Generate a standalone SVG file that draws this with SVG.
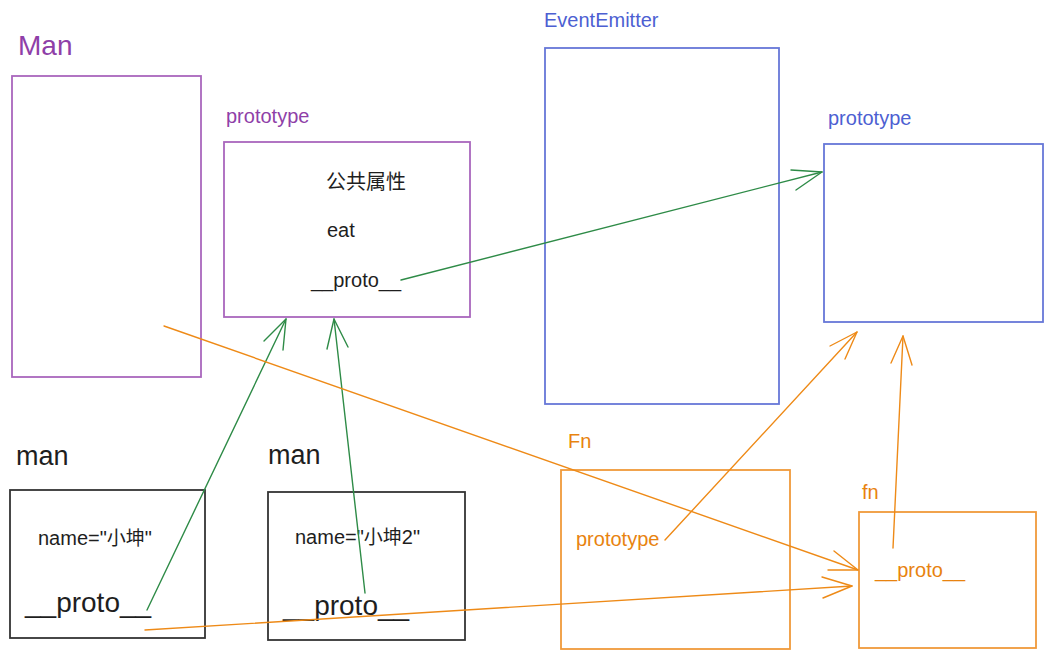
<svg xmlns="http://www.w3.org/2000/svg" width="1053" height="659" viewBox="0 0 1053 659">
<style>
text{font-family:"Liberation Sans",Arial,"Noto Sans CJK SC",sans-serif;font-size:20px}
.box{fill:none;stroke-width:1.8}
.pb{stroke:#a966bd}
.bb{stroke:#6677d8}
.ob{stroke:#f09a3a}
.kb{stroke:#333}
.pt{fill:#8f3fa8}
.bt{fill:#4d5fd2}
.ot{fill:#e8830f}
.kt{fill:#1e1e1e}
.big{font-size:27px}
.huge{font-size:28px}
.cjk{font-family:"Noto Sans CJK SC",sans-serif;font-size:19px}
.g{stroke:#2e8b47;fill:none;stroke-width:1.4;stroke-linecap:round;stroke-linejoin:round}
.o{stroke:#ee8a17;fill:none;stroke-width:1.4;stroke-linecap:round;stroke-linejoin:round}
</style>
<rect width="1053" height="659" fill="#fff"/>
<g id="Man">
<text x="18" y="55" class="pt huge">Man</text>
<rect x="12" y="76" width="189" height="301" class="box pb"/>
</g>
<g id="ManPrototype">
<text x="226" y="123" class="pt">prototype</text>
<rect x="224" y="142" width="246" height="175" class="box pb"/>
<text x="326" y="189" class="kt">公共属性</text>
<text x="327" y="237" class="kt">eat</text>
<text x="311" y="287" class="kt">__proto__</text>
</g>
<g id="EventEmitter">
<text x="544" y="27" class="bt">EventEmitter</text>
<rect x="545" y="48" width="234" height="356" class="box bb"/>
</g>
<g id="EventEmitterPrototype">
<text x="828" y="125" class="bt">prototype</text>
<rect x="824" y="144" width="219" height="178" class="box bb"/>
</g>
<g id="man1">
<text x="16" y="465" class="kt big">man</text>
<rect x="10" y="490" width="195" height="148" class="box kb"/>
<text x="38" y="545" class="kt">name="<tspan class="cjk">小坤</tspan>"</text>
<text x="25" y="612" class="kt huge">__proto__</text>
</g>
<g id="man2">
<text x="268" y="464" class="kt big">man</text>
<rect x="268" y="492" width="197" height="148" class="box kb"/>
<text x="295" y="544" class="kt">name="<tspan class="cjk">小坤</tspan>2"</text>
<text x="283" y="615" class="kt huge">__proto__</text>
</g>
<g id="Fn">
<text x="568" y="448" class="ot">Fn</text>
<rect x="561" y="470" width="229" height="179" class="box ob"/>
<text x="576" y="546" class="ot">prototype</text>
</g>
<g id="fn">
<text x="862" y="499" class="ot">fn</text>
<rect x="859" y="512" width="177" height="136" class="box ob"/>
<text x="875" y="577" class="ot">__proto__</text>
</g>
<g id="connectors">
<line x1="147" y1="610" x2="286" y2="319" class="g"/>
<polyline points="264,341 286,319 283,350" class="g"/>
<line x1="365" y1="593" x2="334" y2="319" class="g"/>
<polyline points="327,349 334,319 348,347" class="g"/>
<line x1="401" y1="280" x2="822" y2="172" class="g"/>
<polyline points="791,170 822,172 796,190" class="g"/>
<line x1="164" y1="326" x2="858" y2="570" class="o"/>
<polyline points="834,551 858,570 828,570" class="o"/>
<line x1="145" y1="630" x2="852" y2="586" class="o"/>
<polyline points="822,577 852,586 823,598" class="o"/>
<line x1="665" y1="540" x2="857" y2="332" class="o"/>
<polyline points="830,346 857,332 845,359" class="o"/>
<line x1="893" y1="548" x2="903" y2="336" class="o"/>
<polyline points="891,363 903,336 912,365" class="o"/>
</g>
</svg>
